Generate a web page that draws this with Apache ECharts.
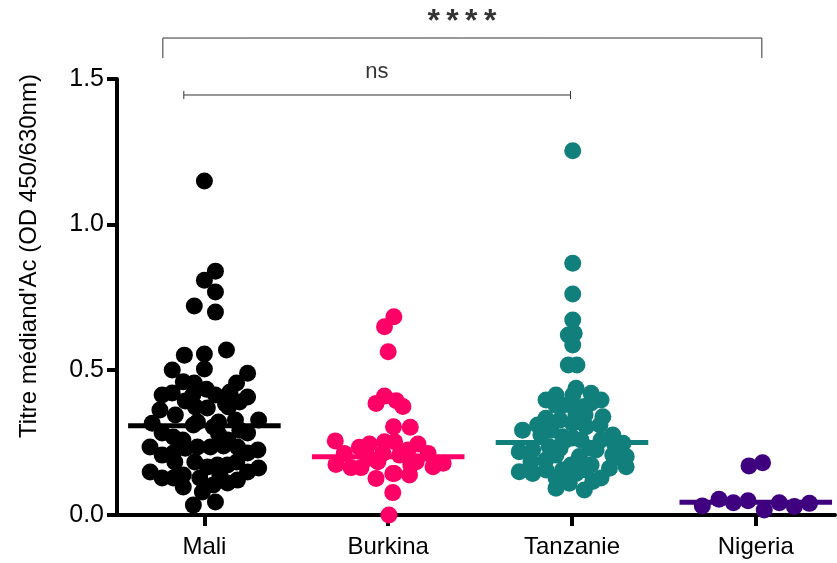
<!DOCTYPE html>
<html>
<head>
<meta charset="utf-8">
<script src="https://cdn.jsdelivr.net/npm/echarts@6/dist/echarts.min.js"></script>
<style>html,body{margin:0;padding:0;background:#fff}#c{width:837px;height:563px}</style>
</head>
<body>
<div id="c"></div>
<script>
const categories = ['Mali', 'Burkina', 'Tanzanie', 'Nigeria'];
const yTicks = [0, 0.5, 1.0, 1.5];
const colors = ['#000000', '#FF0066', '#117F7B', '#3F0080'];
const medians = [0.307, 0.200, 0.249, 0.044];

const maliY = [1.149,0.839,0.808,0.767,0.719,0.698,0.568,0.550,0.554,0.499,0.502,0.488,0.458,0.454,0.454,0.433,0.413,0.406,0.413,0.420,0.392,0.382,0.389,0.372,0.368,0.372,0.344,0.316,0.320,0.320,0.327,0.327,0.282,0.268,0.310,0.303,0.279,0.282,0.206,0.213,0.230,0.234,0.234,0.237,0.234,0.213,0.148,0.127,0.127,0.138,0.165,0.172,0.172,0.148,0.162,0.096,0.079,0.103,0.110,0.120,0.034,0.045,0.423,0.413,0.292,0.258,0.258,0.234,0.182,0.182,0.182,0.138,0.127,0.224,0.361];
const maliDx = [0,0.060,0,0.060,-0.055,0.060,0.120,-0.109,0,-0.175,0,0.235,-0.115,-0.055,0.175,0.011,-0.230,0.235,0.060,-0.175,-0.104,0.115,0.191,-0.049,0.016,0.131,-0.158,-0.284,-0.038,0.077,0.169,0.295,-0.230,-0.169,-0.060,0.049,0.077,0.235,-0.230,-0.169,-0.104,-0.038,0.033,0.104,0.180,0.235,-0.295,-0.230,-0.169,-0.115,0.016,0.071,0.126,0.235,0.295,-0.115,-0.011,0.049,0.126,0.180,-0.060,0.060,0.139,-0.063,0.193,0.128,-0.117,-0.296,-0.052,0.176,-0.161,0.084,-0.025,0.291,-0.242];

const burkinaY = [0.682,0.648,0.562,0.409,0.384,0.393,0.373,0.304,0.302,0.255,0.233,0.244,0.252,0.252,0.244,0.212,0.174,0.163,0.163,0.195,0.183,0.212,0.206,0.224,0.183,0.212,0.166,0.178,0.126,0.143,0.138,0.077,0.0,0.172,0.143];
const burkinaDx = [0.031,-0.020,0,-0.020,-0.066,0.044,0.080,0.029,0.120,-0.288,-0.157,-0.102,-0.020,0.035,0.162,-0.239,-0.284,-0.202,-0.148,-0.102,-0.056,-0.029,0.062,0.108,0.153,0.217,0.244,0.299,-0.066,0.025,0.116,0.025,0.004,0.123,0.033];

const tanzanieY = [1.253,0.866,0.760,0.671,0.625,0.619,0.585,0.516,0.516,0.413,0.436,0.419,0.378,0.373,0.333,0.338,0.292,0.310,0.315,0.304,0.275,0.247,0.218,0.224,0.235,0.269,0.224,0.201,0.149,0.143,0.161,0.166,0.092,0.109,0.086,0.115,0.155,0.143,0.189,0.201,0.206,0.258,0.258,0.206,0.172,0.275,0.258,0.378,0.292,0.344,0.396,0.396,0.310,0.327,0.344,0.310,0.241,0.230,0.230,0.155,0.127,0.172,0.127,0.155,0.196,0.182,0.265,0.378,0.385,0.413];
const tanzanieDx = [0.004,0.004,0.004,0.004,0.012,-0.020,0.004,-0.020,0.027,-0.087,0.022,0.104,-0.051,0.067,-0.142,0.168,-0.269,-0.187,0.004,0.077,0.222,0.277,-0.287,-0.214,-0.124,-0.051,0.131,0.295,-0.287,-0.214,0.204,0.295,-0.087,-0.015,0.067,0.113,-0.051,0.022,-0.142,0.040,0.222,-0.033,0.049,-0.087,0.104,-0.169,0.158,-0.005,-0.115,0.022,-0.141,0.158,-0.174,-0.065,0.071,0.152,0.234,-0.065,0.098,-0.141,0.158,-0.005,-0.087,0.076,0.234,-0.223,0.005,-0.087,0.104,0.005];

const nigeriaY = [0.169,0.180,0.031,0.054,0.042,0.049,0.017,0.042,0.029,0.040];
const nigeriaDx = [-0.037,0.037,-0.291,-0.200,-0.122,-0.042,0.046,0.128,0.210,0.292];

// significance annotations (data units)
const sigAll = {label: '*\u2009*\u2009*\u2009*', from: 0.774, to: 4.033, y: 1.641, drop: 1.572, textX: 2.401, textY: 1.697};
const sigNs = {label: 'ns', from: 0.888, to: 2.992, y: 1.445, cap: 0.014, textX: 1.939, textY: 1.525};

const groupsY = [maliY, burkinaY, tanzanieY, nigeriaY];
const groupsDx = [maliDx, burkinaDx, tanzanieDx, nigeriaDx];
const medianHalf = 0.415;
const FONT = 'Arial, "Liberation Sans", sans-serif';

const series = [];
groupsY.forEach((ys, i) => {
  series.push({
    type: 'scatter', name: categories[i],
    data: ys.map((v, k) => [i + 1 + groupsDx[i][k], v]),
    symbol: 'circle', symbolSize: 17,
    itemStyle: {color: colors[i], opacity: 1},
    z: 2, animation: false
  });
});
medians.forEach((m, i) => {
  series.push({
    type: 'line', data: [[i + 1 - medianHalf, m], [i + 1 + medianHalf, m]],
    symbol: 'none', lineStyle: {color: colors[i], width: 5}, z: 5, animation: false
  });
});
const bracketStyle = {color: '#333', width: 1};
series.push({
  type: 'line', clip: false, symbol: 'none', lineStyle: bracketStyle, animation: false,
  data: [[sigAll.from, sigAll.drop], [sigAll.from, sigAll.y], [sigAll.to, sigAll.y], [sigAll.to, sigAll.drop]]
});
series.push({
  type: 'line', clip: false, symbol: 'none', lineStyle: bracketStyle, animation: false,
  data: [[sigNs.from, sigNs.y], [sigNs.to, sigNs.y]]
});
[sigNs.from, sigNs.to].forEach(x => series.push({
  type: 'line', clip: false, symbol: 'none', lineStyle: bracketStyle, animation: false,
  data: [[x, sigNs.y - sigNs.cap], [x, sigNs.y + sigNs.cap]]
}));
series.push({
  type: 'scatter', clip: false, symbolSize: 0, animation: false,
  data: [
    {value: [sigAll.textX, sigAll.textY], label: {formatter: sigAll.label, fontSize: 32, fontWeight: 'bold'}},
    {value: [sigNs.textX, sigNs.textY], label: {formatter: sigNs.label, fontSize: 22}}
  ],
  label: {show: true, position: 'inside', color: '#000', fontFamily: FONT}
});

const chart = echarts.init(document.getElementById('c'), null, {renderer: 'canvas'});
chart.setOption({
  backgroundColor: '#fff',
  animation: false,
  grid: {left: 117, right: 2, top: 79, bottom: 48, containLabel: false},
  xAxis: {
    type: 'value', min: 0.5245, max: 4.431,
    splitLine: {show: false},
    axisLine: {show: true, onZero: false, lineStyle: {color: '#000', width: 4}},
    axisTick: {show: true, customValues: [1, 2, 3, 4], length: 11, lineStyle: {color: '#000', width: 4}},
    axisLabel: {show: true, customValues: [1, 2, 3, 4], formatter: v => categories[Math.round(v) - 1] || '',
      fontSize: 24, color: '#000', fontFamily: FONT, margin: 20}
  },
  yAxis: {
    type: 'value', min: 0, max: 1.5, interval: 0.5,
    splitLine: {show: false},
    axisLine: {show: true, lineStyle: {color: '#000', width: 4}},
    axisTick: {show: true, length: 10, lineStyle: {color: '#000', width: 4}},
    axisLabel: {customValues: yTicks, formatter: v => v.toFixed(1), fontSize: 25, color: '#000', fontFamily: FONT, margin: 13}
  },
  graphic: [{
    type: 'text', x: 29, y: 256, rotation: Math.PI / 2,
    style: {text: "Titre médiand'Ac (OD 450/630nm)", font: '24px ' + FONT, fill: '#000', align: 'center', verticalAlign: 'middle'}
  }],
  series: series
});
</script>
</body>
</html>
